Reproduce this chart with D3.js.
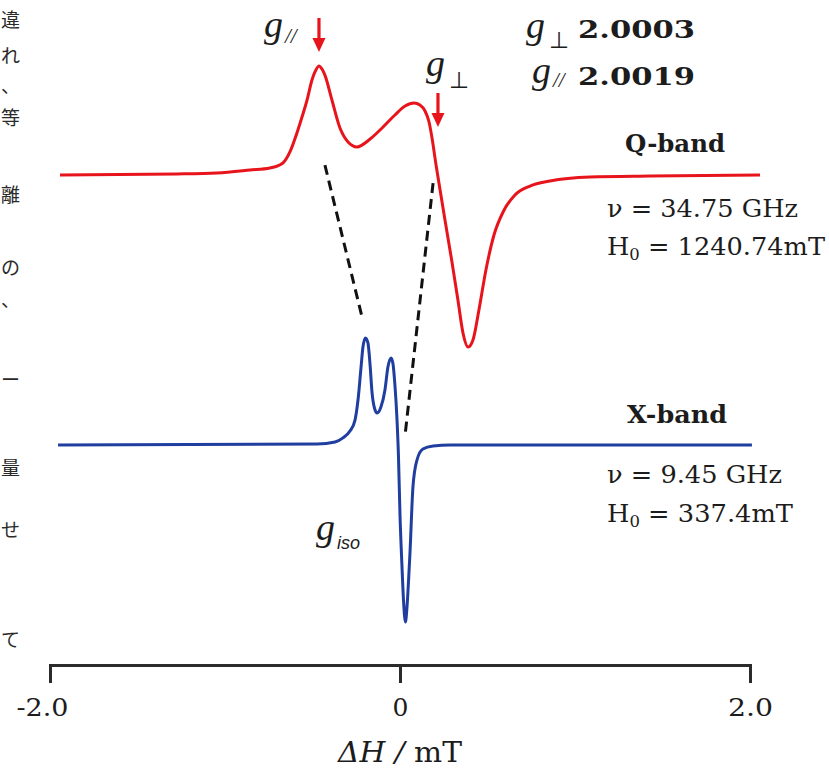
<!DOCTYPE html>
<html>
<head>
<meta charset="utf-8">
<script src="https://cdn.jsdelivr.net/npm/d3@7/dist/d3.min.js"></script>
<style>
  html, body { margin: 0; padding: 0; background: #fff; }
  svg { display: block; }
  .serif { font-family: "DejaVu Serif", "Liberation Serif", serif; fill: #1c1c1c; }
  .gsym { font-family: "Liberation Serif", "DejaVu Serif", serif; font-style: italic; fill: #1c1c1c; }
</style>
</head>
<body>
<svg id="chart" width="829" height="774"></svg>
<script>
// Q-band spectrum: field offset (mT) and normalised derivative signal
var qField = [-1.943, -1.274, -1.046, -0.857, -0.743, -0.669, -0.629, -0.589, -0.560, -0.531,
  -0.503, -0.486, -0.463, -0.446, -0.429, -0.389, -0.343, -0.297, -0.246, -0.171,
  -0.097, -0.029, 0.029, 0.080, 0.114, 0.143, 0.166, 0.183, 0.206, 0.229,
  0.257, 0.297, 0.331, 0.360, 0.389, 0.417, 0.451, 0.491, 0.537, 0.589,
  0.657, 0.743, 0.857, 1.086, 1.429, 2.057];
var qSignal = [0, 0.006, 0.012, 0.029, 0.041, 0.070, 0.134, 0.244, 0.337, 0.436,
  0.552, 0.599, 0.634, 0.616, 0.581, 0.436, 0.273, 0.192, 0.163, 0.209,
  0.279, 0.349, 0.401, 0.419, 0.407, 0.372, 0.308, 0.215, 0.058, -0.087,
  -0.262, -0.506, -0.727, -0.919, -1.000, -0.959, -0.785, -0.552, -0.349, -0.215,
  -0.116, -0.064, -0.035, -0.012, -0.006, 0];

// X-band spectrum
var xField = [-1.954, -0.474, -0.371, -0.326, -0.286, -0.257, -0.240, -0.223, -0.211, -0.197,
  -0.183, -0.171, -0.160, -0.146, -0.131, -0.109, -0.086, -0.069, -0.051, -0.040,
  -0.029, -0.017, -0.009, 0.000, 0.011, 0.020, 0.031, 0.040, 0.049, 0.057,
  0.074, 0.097, 0.131, 0.189, 0.286, 2.011];
var xSignal = [0, 0.006, 0.017, 0.040, 0.079, 0.141, 0.254, 0.435, 0.559, 0.605,
  0.576, 0.452, 0.299, 0.209, 0.181, 0.215, 0.311, 0.441, 0.492, 0.458,
  0.339, 0.141, -0.056, -0.395, -0.678, -0.876, -1.000, -0.915, -0.763, -0.610,
  -0.237, -0.085, -0.023, -0.006, 0, 0];

var axisTicks = [-2, 0, 2];
var tickLabels = ['-2.0', '0', '2.0'];

var gNames = ['\u22A5', '//'];
var gValues = ['2.0003', '2.0019'];

var bandNames = ['Q-band', 'X-band'];
var bandFreqs = ['34.75', '9.45'];
var bandFields = ['1240.74', '337.4'];

// arrow positions (mT) on the Q-band trace: g// and g-perp
var arrowField = [-0.463, 0.217];

// dashed guides: [Q-band field, Q-band level, X-band field, X-band level]
var guides = [[-0.429, 0.058, -0.217, 0.723], [0.189, -0.047, 0.029, 0.056]];

// page text fragments at the left margin
var marginText = ['\u9055', '\u308C', '\u3001', '\u7B49', '\u96E2', '\u306E', '\u3001', '\u30FC', '\u91CF', '\u305B', '\u3066'];
var marginRows = [20, 56, 86, 118, 195, 268, 300, 380, 468, 530, 640];

var red = '#e8141c';
var blue = '#1f3ea0';

var svg = d3.select('#chart');

var x = d3.scaleLinear().domain([-2, 2]).range([50, 750]);
var yQ = d3.scaleLinear().domain([-1, 0]).range([347, 175]);
var yX = d3.scaleLinear().domain([-1, 0]).range([622, 445]);

function traceLine(yScale) {
  return d3.line()
    .x(function (d) { return x(d[0]); })
    .y(function (d) { return yScale(d[1]); })
    .curve(d3.curveMonotoneX);
}

var qData = d3.zip(qField, qSignal);
var xData = d3.zip(xField, xSignal);

// margin fragments
svg.append('g')
  .selectAll('text')
  .data(marginText)
  .enter()
  .append('text')
  .attr('x', 1)
  .attr('y', function (d, i) { return marginRows[i] + 7; })
  .attr('font-family', '"Noto Sans CJK JP", sans-serif')
  .attr('font-size', 19)
  .attr('fill', '#2a2a2a')
  .text(function (d) { return d; });

// dashed guides
svg.append('g')
  .selectAll('line')
  .data(guides)
  .enter()
  .append('line')
  .attr('x1', function (d) { return x(d[0]); })
  .attr('y1', function (d) { return yQ(d[1]); })
  .attr('x2', function (d) { return x(d[2]); })
  .attr('y2', function (d) { return yX(d[3]); })
  .attr('stroke', '#111')
  .attr('stroke-width', 3)
  .attr('stroke-dasharray', '10,6');

// spectra
svg.append('path')
  .datum(qData)
  .attr('d', traceLine(yQ))
  .attr('fill', 'none')
  .attr('stroke', red)
  .attr('stroke-width', 3)
  .attr('stroke-linejoin', 'round');

svg.append('path')
  .datum(xData)
  .attr('d', traceLine(yX))
  .attr('fill', 'none')
  .attr('stroke', blue)
  .attr('stroke-width', 3)
  .attr('stroke-linejoin', 'round');

// axis
var axis = svg.append('g')
  .attr('transform', 'translate(0,665)')
  .call(d3.axisBottom(x)
    .tickValues(axisTicks)
    .tickSize(18)
    .tickPadding(15)
    .tickFormat(function (d, i) { return tickLabels[i]; }));

axis.select('.domain')
  .attr('stroke', '#2b2b2b')
  .attr('stroke-width', 3)
  .attr('stroke-linejoin', 'miter');
axis.selectAll('.tick line')
  .attr('stroke', '#2b2b2b')
  .attr('stroke-width', 3);
axis.selectAll('.tick text')
  .attr('class', 'serif')
  .attr('font-size', 25)
  .attr('dx', function (d) { return d < 0 ? -8 : 0; })
  .attr('textLength', function (d, i) { return tickLabels[i].length > 1 ? (d < 0 ? 52 : 45) : null; })
  .attr('lengthAdjust', 'spacingAndGlyphs');

var title = svg.append('text')
  .attr('class', 'serif')
  .attr('x', 400)
  .attr('y', 762)
  .attr('text-anchor', 'middle')
  .attr('font-size', 27)
  .attr('textLength', 124)
  .attr('lengthAdjust', 'spacingAndGlyphs');
title.append('tspan').attr('font-style', 'italic').text('\u0394H');
title.append('tspan').attr('font-style', 'italic').text(' / ');
title.append('tspan').text('mT');

// arrows marking g components
function arrowPath(cx, top, tip) {
  var p = d3.path();
  p.moveTo(cx, top);
  p.lineTo(cx, tip - 10);
  return p.toString();
}
function arrowHead(cx, tip) {
  var p = d3.path();
  p.moveTo(cx - 6.5, tip - 14);
  p.lineTo(cx + 6.5, tip - 14);
  p.lineTo(cx, tip);
  p.closePath();
  return p.toString();
}
var arrowSpans = [[18, 52], [93, 127]];
arrowField.forEach(function (f, i) {
  svg.append('path')
    .attr('d', arrowPath(x(f), arrowSpans[i][0], arrowSpans[i][1]))
    .attr('stroke', red)
    .attr('stroke-width', 3.2)
    .attr('fill', 'none');
  svg.append('path')
    .attr('d', arrowHead(x(f), arrowSpans[i][1]))
    .attr('fill', red);
});

function gLabel(px, py, sub, subDx, subDy) {
  var t = svg.append('text')
    .attr('class', 'gsym')
    .attr('x', px)
    .attr('y', py)
    .attr('font-size', 38);
  t.append('tspan').text('g');
  var s = t.append('tspan')
    .attr('dx', subDx)
    .attr('dy', subDy)
    .text(sub);
  if (sub === '\u22A5') {
    s.attr('font-family', '"DejaVu Sans", sans-serif')
      .attr('font-style', 'normal')
      .attr('font-size', 23);
  } else {
    s.attr('font-size', 21);
  }
  return t;
}

// labels on the Q-band trace
gLabel(264, 37, '//', 2, 6);
gLabel(426, 76, '\u22A5', 4, 12);

// g values table
gNames.forEach(function (n, i) {
  var rowY = [38, 83][i];
  gLabel(n === '//' ? 532 : 526, rowY, n, n === '//' ? 2 : 4, n === '//' ? 4 : 10);
  svg.append('text')
    .attr('class', 'serif')
    .attr('x', 578)
    .attr('y', rowY + (i ? 2 : 0))
    .attr('font-size', 24)
    .attr('font-weight', 'bold')
    .attr('textLength', 117)
    .attr('lengthAdjust', 'spacingAndGlyphs')
    .text(gValues[i]);
});

// g iso label
var iso = svg.append('text')
  .attr('class', 'gsym')
  .attr('x', 316)
  .attr('y', 540)
  .attr('font-size', 38);
iso.append('tspan').text('g');
iso.append('tspan')
  .attr('dx', 2)
  .attr('dy', 9)
  .attr('font-family', '"Liberation Sans", sans-serif')
  .attr('font-size', 18)
  .text('iso');

// band descriptions
var bandRows = [[152, 217, 255], [423, 483, 522]];
bandNames.forEach(function (b, i) {
  var r = bandRows[i];
  svg.append('text')
    .attr('class', 'serif')
    .attr('x', i ? 627 : 625)
    .attr('y', r[0])
    .attr('font-size', 24)
    .attr('font-weight', 'bold')
    .attr('textLength', 100)
    .attr('lengthAdjust', 'spacingAndGlyphs')
    .text(b);
  svg.append('text')
    .attr('class', 'serif')
    .attr('x', 607)
    .attr('y', r[1])
    .attr('font-size', 25)
    .attr('textLength', i ? 175 : 191)
    .attr('lengthAdjust', 'spacingAndGlyphs')
    .text('\u03BD = ' + bandFreqs[i] + ' GHz');
  var h = svg.append('text')
    .attr('class', 'serif')
    .attr('x', 607)
    .attr('y', r[2])
    .attr('font-size', 25)
    .attr('textLength', i ? 186 : 218)
    .attr('lengthAdjust', 'spacingAndGlyphs');
  h.append('tspan').text('H');
  h.append('tspan').attr('font-size', 16).attr('dy', 5).text('0');
  h.append('tspan').attr('dy', -5).text(' = ' + bandFields[i] + 'mT');
});
</script>
</body>
</html>
